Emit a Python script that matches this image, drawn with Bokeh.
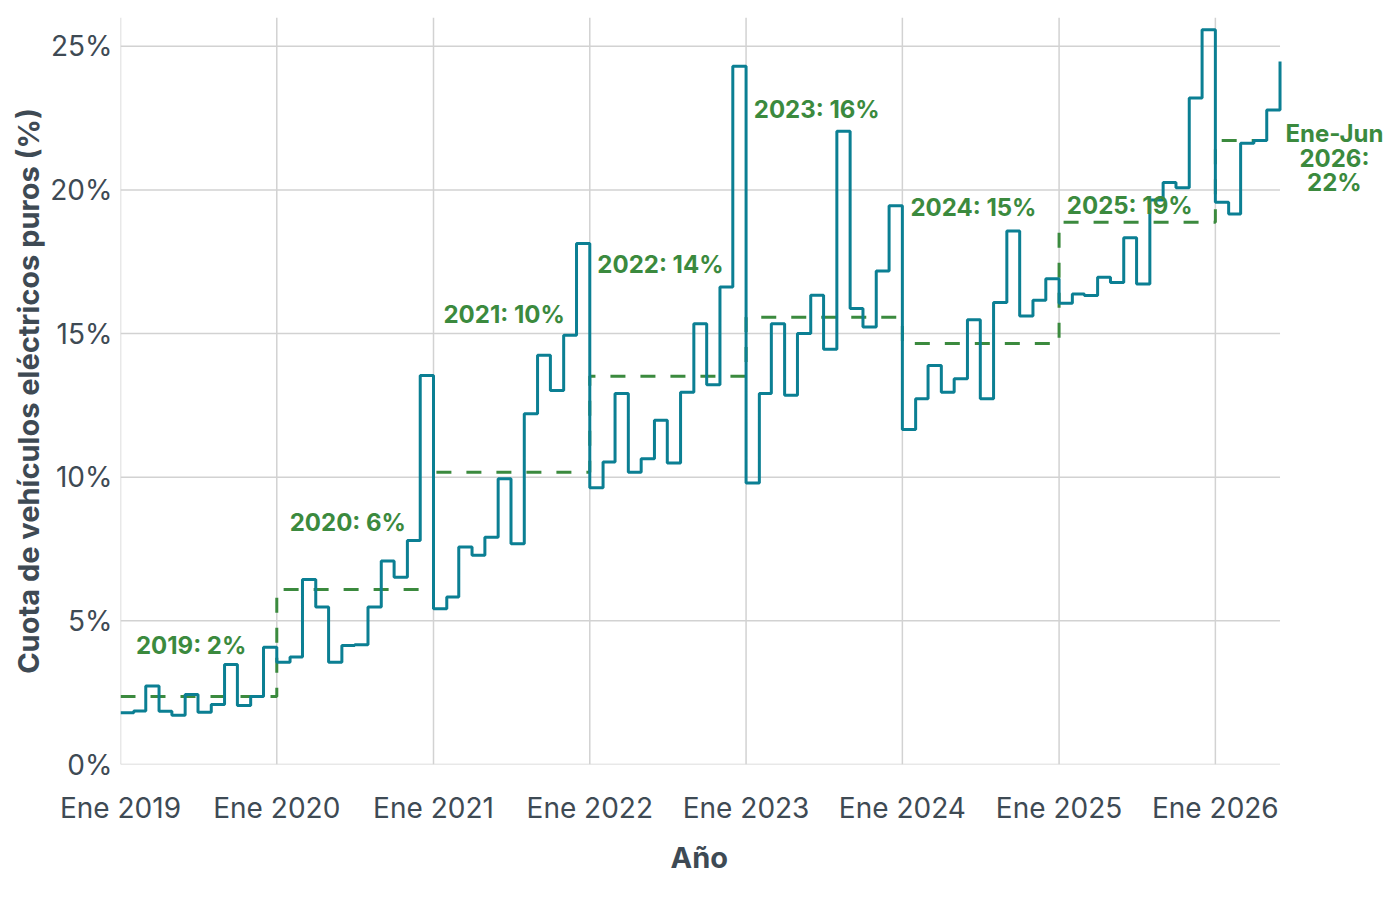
import pandas as pd
from bokeh.plotting import figure
from bokeh.models import Range1d, FixedTicker, PrintfTickFormatter, Label, Title
from bokeh.embed import file_html
from bokeh.resources import INLINE

# ---- data ----
start_month = "2019-01-01"
share_2019 = [1.80, 1.86, 2.73, 1.85, 1.71, 2.44, 1.82, 2.09, 3.48, 2.05, 2.37, 4.08]
share_2020 = [3.56, 3.74, 6.44, 5.48, 3.56, 4.14, 4.17, 5.48, 7.08, 6.52, 7.80, 13.54]
share_2021 = [5.42, 5.83, 7.57, 7.28, 7.91, 9.95, 7.68, 12.21, 14.24, 13.02, 14.94, 18.13]
share_2022 = [9.63, 10.53, 12.91, 10.17, 10.64, 11.98, 10.49, 12.96, 15.34, 13.22, 16.62, 24.30]
share_2023 = [9.80, 12.91, 15.34, 12.85, 15.00, 16.33, 14.45, 22.04, 15.87, 15.23, 17.18, 19.45]
share_2024 = [11.66, 12.73, 13.89, 12.96, 13.43, 15.48, 12.73, 16.08, 18.57, 15.61, 16.16, 16.91]
share_2025 = [16.05, 16.38, 16.32, 16.96, 16.78, 18.33, 16.72, 19.65, 20.26, 20.07, 23.20, 25.57]
share_2026 = [19.57, 19.16, 21.62, 21.72, 22.78, 24.47]

years = [2019, 2020, 2021, 2022, 2023, 2024, 2025, 2026]
year_avg = [2.37, 6.09, 10.17, 13.51, 15.57, 14.65, 18.87, 21.72]
avg_labels = ["2019: 2%", "2020: 6%", "2021: 10%", "2022: 14%", "2023: 16%",
              "2024: 15%", "2025: 19%"]
label_dates = ["2019-06-15", "2020-06-15", "2021-06-15", "2022-06-15",
               "2023-06-15", "2024-06-15", "2025-06-15"]
label_y = [4.14, 8.43, 15.67, 17.41, 22.81, 19.39, 19.46]
last_label_lines = ["Ene-Jun", "2026:", "22%"]
last_label_date = "2026-10-06"
last_label_y = [21.96, 21.1, 20.24]
tick_labels = ["Ene 2019", "Ene 2020", "Ene 2021", "Ene 2022", "Ene 2023",
               "Ene 2024", "Ene 2025", "Ene 2026"]
y_ticks = [0, 5, 10, 15, 20, 25]
y_top = 26
x_title = "Año"
y_title = "Cuota de vehículos eléctricos puros (%)"

monthly = (share_2019 + share_2020 + share_2021 + share_2022 + share_2023
           + share_2024 + share_2025 + share_2026)
months = pd.date_range(start_month, periods=len(monthly), freq="MS")
last_month = months[-1]

avg_x = [pd.Timestamp(f"{y}-01-01") for y in years] + [last_month]
avg_y = year_avg + [year_avg[-1]]

def ms(ts):
    return pd.Timestamp(ts).value / 1e6

# frame extends past the data so that the last annotation can sit at the right
view_end = "2027-01-31"
PX_PER_DAY = 1095 / 2557
frame_w = int(round((pd.Timestamp(view_end) - pd.Timestamp(start_month)).days * PX_PER_DAY))

TEAL = "#0b7f93"
GREEN = "#3b8a3e"
TEXT = "#3e4a54"
GRID = "#d2d2d2"
FONT = "Inter"

p = figure(x_axis_type="datetime", output_backend="svg", toolbar_location=None,
           frame_width=frame_w, frame_height=747,
           min_border_left=120, min_border_right=0, min_border_top=17,
           min_border_bottom=110,
           x_range=Range1d(ms(start_month), ms(view_end)),
           y_range=Range1d(0, y_top))
p.outline_line_color = None
p.background_fill_color = "white"
p.xgrid.grid_line_color = None
p.ygrid.grid_line_color = None

# grid lines limited to the data period
tick_dates = [pd.Timestamp(f"{y}-01-01") for y in years]
p.segment(x0=tick_dates, y0=[0] * len(years), x1=tick_dates, y1=[y_top] * len(years),
          line_color=GRID, line_width=1.5)
p.segment(x0=[pd.Timestamp(start_month)] * len(y_ticks), y0=y_ticks,
          x1=[last_month] * len(y_ticks), y1=y_ticks,
          line_color=GRID, line_width=1.5)

p.step(x=avg_x, y=avg_y, mode="after", line_color=GREEN, line_width=3,
       line_dash="15 15")
p.step(x=months, y=monthly, mode="after", line_color=TEAL, line_width=3)

label_style = dict(text_align="center", text_baseline="middle", text_color=GREEN,
                   text_font=FONT, text_font_style="bold", text_font_size="24px")
for txt, d, yv in zip(avg_labels, label_dates, label_y):
    p.add_layout(Label(x=ms(d), y=yv, text=txt, **label_style))
for txt, yv in zip(last_label_lines, last_label_y):
    p.add_layout(Label(x=ms(last_label_date), y=yv, text=txt, **label_style))

# axes
p.xaxis.ticker = FixedTicker(ticks=[ms(d) for d in tick_dates])
p.xaxis.major_label_overrides = {ms(d): t for d, t in zip(tick_dates, tick_labels)}
p.yaxis.ticker = FixedTicker(ticks=y_ticks)
p.yaxis.formatter = PrintfTickFormatter(format="%d%%")
for ax in (p.xaxis[0], p.yaxis[0]):
    ax.axis_line_color = None
    ax.major_tick_line_color = None
    ax.minor_tick_line_color = None
    ax.major_tick_out = 0
    ax.major_tick_in = 0
    ax.major_label_text_font = FONT
    ax.major_label_text_font_size = "28px"
    ax.major_label_text_color = TEXT
    ax.axis_label_text_font = FONT
    ax.axis_label_text_font_size = "29px"
    ax.axis_label_text_font_style = "bold"
    ax.axis_label_text_color = TEXT
p.yaxis.axis_label = y_title
p.xaxis.major_label_standoff = 26
p.yaxis.major_label_standoff = 8
p.yaxis.axis_label_standoff = 1

# x-axis title centred under the data period (the frame is wider than the data)
p.add_layout(Title(text=x_title, align="left", offset=550, standoff=24,
                   text_font=FONT, text_font_size="29px", text_font_style="bold",
                   text_color=TEXT, vertical_align="top"), "below")

open("out.html", "w").write(file_html(p, INLINE))
